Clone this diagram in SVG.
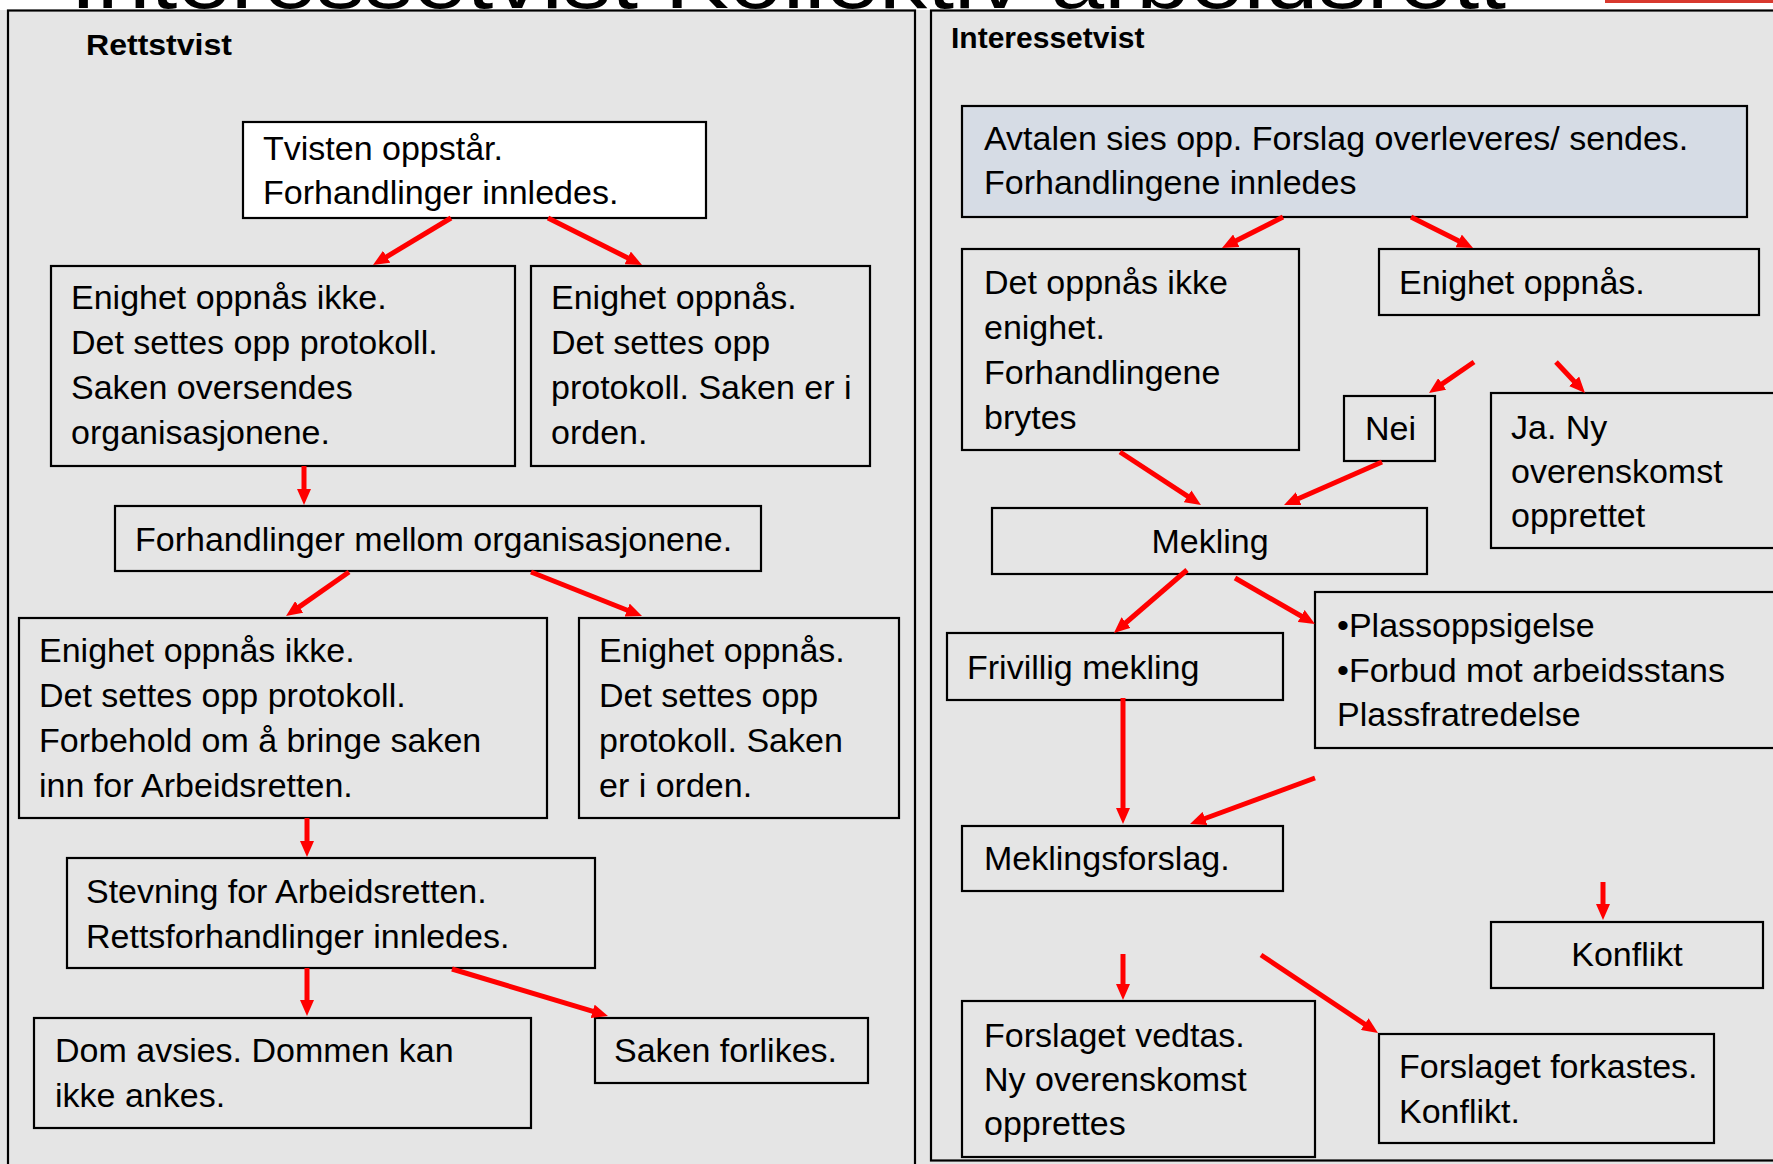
<svg xmlns="http://www.w3.org/2000/svg" width="1773" height="1164" viewBox="0 0 1773 1164">
  <defs>
    <style>
      .bg { fill: #e5e5e5; }
      .panel { fill: none; stroke: #000; stroke-width: 2.2; }
      .box { fill: #e5e5e5; stroke: #000; stroke-width: 2.2; }
      .box.white { fill: #ffffff; }
      .box.blue { fill: #d6dce5; }
      .t { font-family: "Liberation Sans", Arial, sans-serif; font-size: 34px; fill: #000; }
      .h { font-family: "Liberation Sans", Arial, sans-serif; font-size: 30px; font-weight: bold; fill: #000; }
      .c { text-anchor: middle; }
      .arrow { fill: none; stroke: #ff0000; stroke-width: 5; marker-end: url(#head); }
    </style>
    <marker id="head" markerUnits="userSpaceOnUse" markerWidth="16" markerHeight="14" refX="3" refY="7" orient="auto">
      <path d="M0,0 L16,7 L0,14 z" fill="#ff0000"/>
    </marker>
    <clipPath id="topband">
      <rect x="0" y="0" width="1773" height="10"/>
    </clipPath>
  </defs>

  <!-- page background -->
  <rect x="0" y="0" width="1773" height="1164" fill="#ffffff"/>
  <rect class="bg" x="0" y="10" width="1773" height="1154"/>
  <rect x="1605" y="0" width="168" height="3" fill="#d8392e"/>

  <!-- slide title, mostly above the visible area -->
  <g id="title" clip-path="url(#topband)">
    <text x="70" y="8" font-family="'Liberation Sans', Arial, sans-serif" font-size="82" fill="#000" textLength="1436" lengthAdjust="spacingAndGlyphs">Interessetvist Kollektiv arbeidsrett</text>
  </g>

  <!-- panels -->
  <rect class="panel" x="8" y="10.5" width="907" height="1170"/>
  <rect class="panel" x="931" y="10.5" width="900" height="1150"/>
  <text class="h" x="86" y="55" textLength="146" lengthAdjust="spacingAndGlyphs">Rettstvist</text>
  <text class="h" x="951" y="48">Interessetvist</text>

  <!-- Rettstvist nodes -->
  <g id="tvisten">
    <rect class="box white" x="243" y="122" width="463" height="96"/>
    <text class="t"><tspan x="263" y="160">Tvisten oppstår.</tspan><tspan x="263" y="204">Forhandlinger innledes.</tspan></text>
  </g>
  <g id="r-ikke-enighet">
    <rect class="box" x="51" y="266" width="464" height="200"/>
    <text class="t"><tspan x="71" y="309">Enighet oppnås ikke.</tspan><tspan x="71" y="354">Det settes opp protokoll.</tspan><tspan x="71" y="399">Saken oversendes</tspan><tspan x="71" y="444">organisasjonene.</tspan></text>
  </g>
  <g id="r-enighet">
    <rect class="box" x="531" y="266" width="339" height="200"/>
    <text class="t"><tspan x="551" y="309">Enighet oppnås.</tspan><tspan x="551" y="354">Det settes opp</tspan><tspan x="551" y="399">protokoll. Saken er i</tspan><tspan x="551" y="444">orden.</tspan></text>
  </g>
  <g id="r-organisasjoner">
    <rect class="box" x="115" y="506" width="646" height="65"/>
    <text class="t" x="135" y="551">Forhandlinger mellom organisasjonene.</text>
  </g>
  <g id="r2-ikke-enighet">
    <rect class="box" x="19" y="618" width="528" height="200"/>
    <text class="t"><tspan x="39" y="662">Enighet oppnås ikke.</tspan><tspan x="39" y="707">Det settes opp protokoll.</tspan><tspan x="39" y="752">Forbehold om å bringe saken</tspan><tspan x="39" y="797">inn for Arbeidsretten.</tspan></text>
  </g>
  <g id="r2-enighet">
    <rect class="box" x="579" y="618" width="320" height="200"/>
    <text class="t"><tspan x="599" y="662">Enighet oppnås.</tspan><tspan x="599" y="707">Det settes opp</tspan><tspan x="599" y="752">protokoll. Saken</tspan><tspan x="599" y="797">er i orden.</tspan></text>
  </g>
  <g id="r-stevning">
    <rect class="box" x="67" y="858" width="528" height="110"/>
    <text class="t"><tspan x="86" y="903">Stevning for Arbeidsretten.</tspan><tspan x="86" y="948">Rettsforhandlinger innledes.</tspan></text>
  </g>
  <g id="r-dom">
    <rect class="box" x="34" y="1018" width="497" height="110"/>
    <text class="t"><tspan x="55" y="1062">Dom avsies. Dommen kan</tspan><tspan x="55" y="1107">ikke ankes.</tspan></text>
  </g>
  <g id="r-forlik">
    <rect class="box" x="595" y="1018" width="273" height="65"/>
    <text class="t" x="614" y="1062">Saken forlikes.</text>
  </g>

  <!-- Interessetvist nodes -->
  <g id="i-avtalen">
    <rect class="box blue" x="962" y="106" width="785" height="111"/>
    <text class="t"><tspan x="984" y="150">Avtalen sies opp. Forslag overleveres/ sendes.</tspan><tspan x="984" y="194">Forhandlingene innledes</tspan></text>
  </g>
  <g id="i-brytes">
    <rect class="box" x="962" y="249" width="337" height="201"/>
    <text class="t"><tspan x="984" y="294">Det oppnås ikke</tspan><tspan x="984" y="339">enighet.</tspan><tspan x="984" y="384">Forhandlingene</tspan><tspan x="984" y="429">brytes</tspan></text>
  </g>
  <g id="i-enighet">
    <rect class="box" x="1379" y="249" width="380" height="66"/>
    <text class="t" x="1399" y="294">Enighet oppnås.</text>
  </g>
  <g id="i-nei">
    <rect class="box" x="1344" y="396" width="91" height="65"/>
    <text class="t" x="1365" y="440">Nei</text>
  </g>
  <g id="i-ja">
    <rect class="box" x="1491" y="393" width="320" height="155"/>
    <text class="t"><tspan x="1511" y="439">Ja. Ny</tspan><tspan x="1511" y="483">overenskomst</tspan><tspan x="1511" y="527">opprettet</tspan></text>
  </g>
  <g id="i-mekling">
    <rect class="box" x="992" y="508" width="435" height="66"/>
    <text class="t c" x="1210" y="553">Mekling</text>
  </g>
  <g id="i-frivillig">
    <rect class="box" x="947" y="633" width="336" height="67"/>
    <text class="t" x="967" y="679">Frivillig mekling</text>
  </g>
  <g id="i-tvungen">
    <rect class="box" x="1315" y="592" width="500" height="156"/>
    <text class="t"><tspan x="1337" y="637">•Plassoppsigelse</tspan><tspan x="1337" y="682">•Forbud mot arbeidsstans</tspan><tspan x="1337" y="726">Plassfratredelse</tspan></text>
  </g>
  <g id="i-forslag">
    <rect class="box" x="962" y="826" width="321" height="65"/>
    <text class="t" x="984" y="870">Meklingsforslag.</text>
  </g>
  <g id="i-konflikt">
    <rect class="box" x="1491" y="922" width="272" height="66"/>
    <text class="t c" x="1627" y="966">Konflikt</text>
  </g>
  <g id="i-vedtas">
    <rect class="box" x="962" y="1001" width="353" height="156"/>
    <text class="t"><tspan x="984" y="1047">Forslaget vedtas.</tspan><tspan x="984" y="1091">Ny overenskomst</tspan><tspan x="984" y="1135">opprettes</tspan></text>
  </g>
  <g id="i-forkastes">
    <rect class="box" x="1379" y="1034" width="335" height="109"/>
    <text class="t"><tspan x="1399" y="1078">Forslaget forkastes.</tspan><tspan x="1399" y="1123">Konflikt.</tspan></text>
  </g>

  <!-- connectors -->
  <g id="connectors">
    <path class="arrow" d="M451,218 L384.1,258.3"/>
    <path class="arrow" d="M548,218 L630.4,259.2"/>
    <path class="arrow" d="M304,466 L304,492"/>
    <path class="arrow" d="M349,572 L296.7,608.6"/>
    <path class="arrow" d="M531,572 L629.9,611.2"/>
    <path class="arrow" d="M307,818 L307,844"/>
    <path class="arrow" d="M307,968 L307,1003"/>
    <path class="arrow" d="M452,969 L595.5,1012.2"/>

    <path class="arrow" d="M1283,217 L1233.6,242.1"/>
    <path class="arrow" d="M1411,217 L1461.4,242.2"/>
    <path class="arrow" d="M1474,362 L1439.7,385.6"/>
    <path class="arrow" d="M1556,362 L1576.1,383.5"/>
    <path class="arrow" d="M1120,452 L1190.1,497.9"/>
    <path class="arrow" d="M1382,462 L1295.9,499.8"/>
    <path class="arrow" d="M1187,570 L1123.8,624.5"/>
    <path class="arrow" d="M1235,578 L1303.7,617.5"/>
    <path class="arrow" d="M1123,698 L1123,811"/>
    <path class="arrow" d="M1315,778 L1202.2,819.5"/>
    <path class="arrow" d="M1603,882 L1603,907"/>
    <path class="arrow" d="M1123,954 L1123,987"/>
    <path class="arrow" d="M1261,955 L1367.2,1025.8"/>
  </g>
</svg>
